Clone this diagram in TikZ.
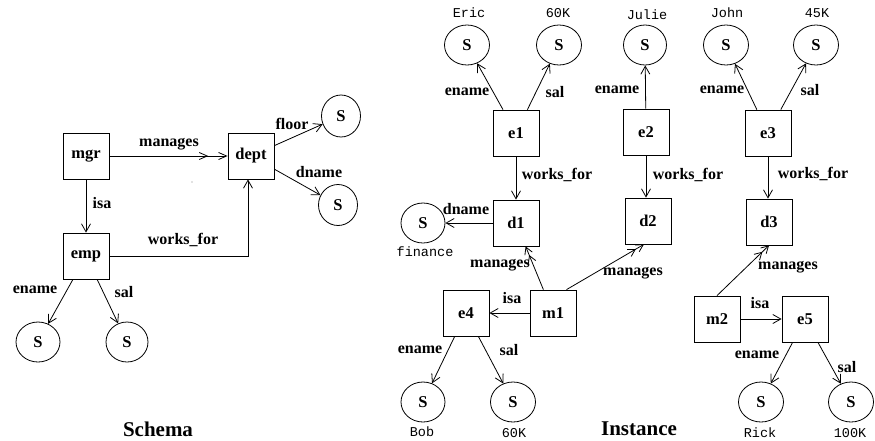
\documentclass[tikz,border=0pt]{standalone}
\usepackage{fontspec}
\setmainfont{Liberation Serif}
\setmonofont{Liberation Mono}
\usetikzlibrary{arrows.meta,shapes.geometric}
\tikzset{
  box/.style={draw,line width=0.8pt,minimum width=46pt,minimum height=46pt,inner sep=0pt,font=\bfseries\fontsize{16.5}{18}\selectfont},
  strnode/.style={draw,ellipse,line width=0.8pt,minimum width=44pt,minimum height=40pt,inner sep=0pt,font=\bfseries\fontsize{16.5}{18}\selectfont},
  lbl/.style={inner sep=0pt,font=\bfseries\fontsize{16}{18}\selectfont},
  val/.style={inner sep=0pt,font=\ttfamily\fontsize{13.5}{15}\selectfont},
  title/.style={inner sep=0pt,font=\bfseries\fontsize{21}{24}\selectfont},
  arr/.style={line width=0.8pt,-{Straight Barb[length=8pt,width=9pt,line width=0.8pt]}},
  marr/.style={line width=0.8pt,-{Straight Barb[length=7pt,width=8pt,line width=0.8pt,sep=1pt]Straight Barb[length=7pt,width=8pt,line width=0.8pt]}},
  smarr/.style={line width=0.8pt,-{Straight Barb[length=8pt,width=7pt,line width=0.8pt,sep=10pt]Straight Barb[length=8pt,width=7pt,line width=0.8pt]}}
}
\begin{document}
\begin{tikzpicture}[x=1pt,y=-1pt]
\useasboundingbox (0,0) rectangle (875,440);
% ---------- Schema ----------
\node[box] (mgr) at (86,156) {mgr};
\node[box] (dept) at (251,156) {dept};
\node[box] (emp) at (86,256) {emp};
\node[strnode,minimum width=39pt,minimum height=42pt] (sfloor) at (341,116) {S};
\node[strnode,minimum width=39pt,minimum height=41pt] (sdname) at (338,205) {S};
\node[strnode] (sename) at (38,342) {S};
\node[strnode,minimum width=42pt] (ssal) at (127,342) {S};
\draw[smarr] (mgr) -- (dept);
\draw[arr] (mgr) -- (emp);
\draw[arr] (emp.east) -| ([xshift=-3pt]dept.south);
\draw[arr] (dept) -- (sfloor);
\draw[arr] (dept) -- (sdname);
\draw[arr] (emp) -- (sename);
\draw[arr] (emp) -- (ssal);
\node[lbl] (lmanages) at (169,144) {manages};
\node[lbl] (lisa) at (102,203) {isa};
\node[lbl] (lworks) at (183,240) {works\_for};
\node[lbl] (lfloor) at (292,124) {floor};
\node[lbl] (ldname) at (319,172) {dname};
\node[lbl] (lename) at (35,290) {ename};
\node[lbl] (lsal) at (124,292) {sal};
\fill[gray] (192,182) circle (0.6pt);
\node[title] (schema) at (158,429) {Schema};
% ---------- Instance ----------
\node[box] (e1) at (516,133) {e1};
\node[box] (e2) at (646,132) {e2};
\node[box] (e3) at (768,133) {e3};
\node[box] (d1) at (516,223) {d1};
\node[box] (d2) at (648,221) {d2};
\node[box] (d3) at (769,222) {d3};
\node[box] (e4) at (466,313) {e4};
\node[box] (m1) at (553,313) {m1};
\node[box] (m2) at (717,319) {m2};
\node[box] (e5) at (805,319) {e5};
\node[strnode,minimum width=45pt] (seric) at (467,45) {S};
\node[strnode,minimum width=45pt] (s60a) at (559,45) {S};
\node[strnode,minimum width=43pt] (sjulie) at (645,45) {S};
\node[strnode,minimum width=45pt] (sjohn) at (726,45) {S};
\node[strnode,minimum width=45pt] (s45) at (816,45) {S};
\node[strnode] (sfin) at (423,223) {S};
\node[strnode] (sbob) at (423,402) {S};
\node[strnode,minimum width=45pt] (s60b) at (513,402) {S};
\node[strnode,minimum width=45pt] (srick) at (761,402) {S};
\node[strnode,minimum width=45pt] (s100) at (851,402) {S};
\node[val] (veric) at (469,13) {Eric};
\node[val] (v60a) at (558,13) {60K};
\node[val] (vjulie) at (647,15) {Julie};
\node[val] (vjohn) at (727,13) {John};
\node[val] (v45) at (817,13) {45K};
\node[val] (vfin) at (425,252) {finance};
\node[val] (vbob) at (422,432) {Bob};
\node[val] (v60b) at (514,433) {60K};
\node[val] (vrick) at (760,433) {Rick};
\node[val] (v100) at (850,433) {100K};
\draw[arr] (e1) -- (seric);
\draw[arr] (e1) -- (s60a);
\draw[arr] (e2) -- (sjulie);
\draw[arr] (e3) -- (sjohn);
\draw[arr] (e3) -- (s45);
\draw[arr] (e1) -- (d1);
\draw[arr] (e2.south) -- (e2.south |- d2.north);
\draw[arr] (e3.south) -- (e3.south |- d3.north);
\draw[arr] (d1) -- (sfin);
\draw[marr] (m1) -- (d1);
\draw[marr] (m1.60) -- (d2.-100);
\draw[arr] (m1) -- (e4);
\draw[arr] (e4) -- (sbob);
\draw[arr] (e4) -- (s60b);
\draw[marr] (m2.north) -- (d3.south);
\draw[arr] (m2) -- (e5);
\draw[arr] (e5) -- (srick);
\draw[arr] (e5) -- (s100);
\node[lbl] (l1) at (467,92) {ename};
\node[lbl] (l2) at (555,92) {sal};
\node[lbl] (l3) at (617,90) {ename};
\node[lbl] (l4) at (722,90) {ename};
\node[lbl] (l5) at (810,90) {sal};
\node[lbl] (l6) at (557,175) {works\_for};
\node[lbl] (l7) at (688,175) {works\_for};
\node[lbl] (l8) at (813,174) {works\_for};
\node[lbl] (l9) at (466,209) {dname};
\node[lbl] (l10) at (500,265) {manages};
\node[lbl] (l11) at (633,273) {manages};
\node[lbl] (l12) at (512,298) {isa};
\node[lbl] (l13) at (420,350) {ename};
\node[lbl] (l14) at (509,350) {sal};
\node[lbl] (l15) at (788,267) {manages};
\node[lbl] (l16) at (760,303) {isa};
\node[lbl] (l17) at (757,355) {ename};
\node[lbl] (l18) at (847,367) {sal};
\node[title] (instance) at (639,429) {Instance};
\end{tikzpicture}
\end{document}
